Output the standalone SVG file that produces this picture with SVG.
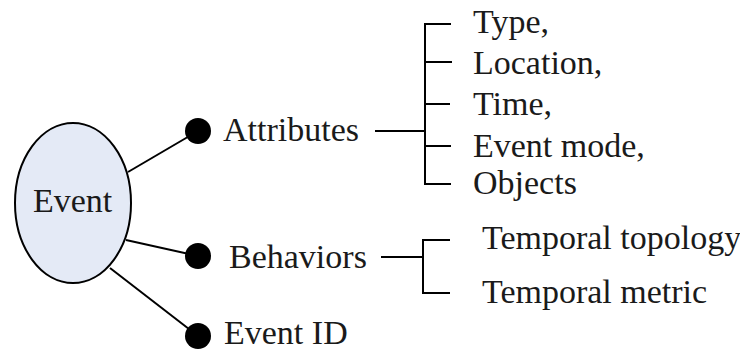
<svg xmlns="http://www.w3.org/2000/svg" width="740" height="352" viewBox="0 0 740 352">
<style>
text{font-family:"Liberation Serif","Times New Roman",serif;font-size:34px;fill:#1a1a1a}
.ln{stroke:#000;stroke-width:2;fill:none}
.dot{fill:#000}
</style>
<rect width="740" height="352" fill="#fff"/>
<g id="connectors">
<line class="ln" x1="128" y1="172" x2="198" y2="131"/>
<line class="ln" x1="126" y1="240" x2="198" y2="256"/>
<line class="ln" x1="110" y1="268" x2="198" y2="336"/>
<path class="ln" d="M375 131H425M451 24H425V184H451M425 62H452M425 104H450M425 146H451"/>
<path class="ln" d="M381 257H423M450 240H423V293H450"/>
</g>
<g id="event">
<ellipse cx="73" cy="203" rx="58" ry="80" fill="#E4EAF6" stroke="#000" stroke-width="2"/>
<text x="33" y="212">Event</text>
</g>
<g id="attributes">
<circle class="dot" cx="198" cy="131" r="13"/>
<text x="223" y="141">Attributes</text>
</g>
<g id="behaviors">
<circle class="dot" cx="198" cy="256" r="13"/>
<text x="229" y="268">Behaviors</text>
</g>
<g id="eventid">
<circle class="dot" cx="198" cy="336" r="13"/>
<text x="224" y="344">Event ID</text>
</g>
<g id="attr-list">
<text x="473" y="33">Type,</text>
<text x="473" y="74">Location,</text>
<text x="473" y="115">Time,</text>
<text x="473" y="157">Event mode,</text>
<text x="473" y="194">Objects</text>
</g>
<g id="beh-list">
<text x="482" y="249">Temporal topology</text>
<text x="482" y="303">Temporal metric</text>
</g>
</svg>
